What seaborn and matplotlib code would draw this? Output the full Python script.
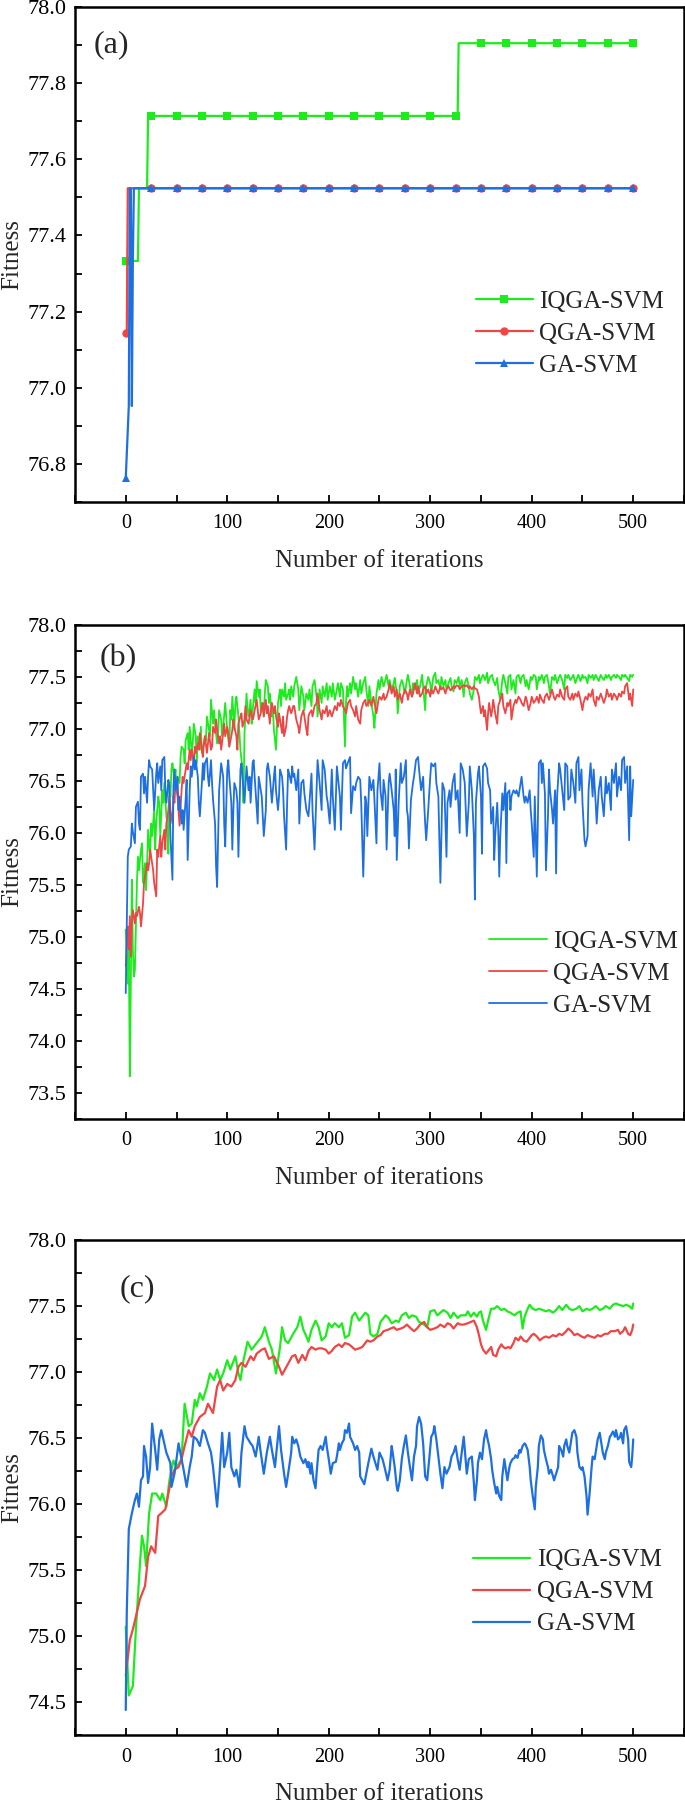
import numpy as np
import pandas as pd
import matplotlib
matplotlib.use('Agg')
import matplotlib.pyplot as plt
from matplotlib.ticker import MultipleLocator, FormatStrFormatter
import seaborn as sns

## Fitness curves of IQGA-SVM / QGA-SVM / GA-SVM, three runs stacked as (a), (b), (c)

labels = ['IQGA-SVM', 'QGA-SVM', 'GA-SVM']
colors = ['#1EEB1E', '#EF4545', '#1E6FE0']

# panel (a): best fitness, held constant from each start iteration
a_iqga = [(0, 77.333), (13, 77.524), (22, 77.714), (328, 77.905)]
a_qga = [(0, 77.143), (2, 77.524)]
a_ga = [(0, 76.762), (1, 76.825), (2, 76.889), (3, 76.952), (4, 77.524),
        (6, 76.952), (7, 77.333), (8, 77.524)]

# panel (b): per-iteration fitness (iteration, fitness)
b_iqga = [
    (0, 75.07), (2, 74.55), (3, 74.88), (4, 73.66), (5, 74.55), (6, 75.55), (7, 74.88), (8, 74.62), (9, 74.68), (11, 75.52),
    (12, 75.77), (13, 75.64), (15, 75.84), (16, 75.90), (17, 75.52), (19, 75.71), (20, 75.45), (21, 75.71), (22, 76.03), (24, 75.77),
    (25, 76.09), (26, 75.97), (28, 76.22), (29, 75.84), (30, 76.09), (32, 76.35), (33, 76.29), (34, 75.97), (36, 76.41), (37, 76.29),
    (38, 76.48), (40, 76.16), (41, 76.09), (42, 75.80), (43, 76.48), (44, 76.35), (45, 76.61), (46, 76.67), (48, 76.51), (49, 76.61),
    (50, 76.41), (51, 76.54), (53, 76.48), (54, 76.73), (55, 76.83), (57, 76.80), (58, 76.67), (59, 76.89), (61, 76.96), (62, 76.80),
    (63, 77.02), (65, 76.77), (66, 76.86), (67, 77.05), (69, 76.93), (70, 76.67), (71, 76.93), (73, 76.80), (74, 77.02), (75, 76.77),
    (77, 76.86), (78, 76.93), (79, 76.89), (80, 77.12), (82, 76.99), (83, 76.93), (84, 77.28), (86, 77.05), (87, 77.18), (88, 77.05),
    (90, 76.86), (91, 76.99), (92, 77.18), (94, 77.09), (95, 76.93), (96, 77.02), (98, 77.25), (99, 77.12), (100, 76.99), (102, 76.83),
    (103, 77.18), (104, 77.09), (105, 77.31), (107, 76.99), (108, 77.25), (109, 77.31), (111, 77.12), (112, 76.96), (113, 76.80), (115, 76.61),
    (116, 76.29), (117, 76.96), (119, 77.34), (120, 77.18), (121, 77.12), (123, 77.28), (124, 77.05), (125, 77.18), (127, 77.38), (128, 77.25),
    (129, 77.46), (131, 77.31), (132, 77.38), (133, 77.18), (134, 77.25), (136, 77.12), (137, 77.34), (138, 77.47), (140, 77.41), (141, 77.25),
    (142, 77.34), (144, 77.12), (145, 77.18), (146, 76.99), (148, 76.80), (149, 77.02), (150, 77.25), (152, 77.38), (153, 77.22), (154, 77.38),
    (156, 77.31), (157, 77.44), (158, 77.28), (160, 77.34), (161, 77.38), (162, 77.28), (163, 77.41), (165, 77.31), (166, 77.41),
    (168, 77.50), (170, 77.38), (171, 77.18), (173, 77.41), (175, 77.31), (176, 77.18), (178, 77.34), (180, 77.28), (181, 77.38), (183, 77.22),
    (184, 77.41), (186, 77.47), (188, 77.31), (189, 77.12), (191, 77.38), (193, 77.25), (194, 77.41), (196, 77.31), (198, 77.44), (199, 77.28),
    (201, 77.41), (203, 77.31), (204, 77.44), (206, 77.28), (208, 77.38), (209, 77.44), (211, 77.31), (212, 77.44), (214, 77.38), (216, 76.83),
    (217, 77.25), (218, 77.41), (219, 77.31), (221, 77.44), (222, 77.34), (224, 77.50), (226, 77.38), (227, 77.44), (229, 77.31), (231, 77.47),
    (232, 77.34), (234, 77.44), (236, 77.50), (237, 77.38), (239, 77.22), (240, 77.41), (242, 77.25), (244, 77.12), (245, 77.01), (247, 77.34),
    (249, 77.47), (250, 77.38), (252, 77.50), (254, 77.41), (255, 77.44), (257, 77.52), (259, 77.41), (260, 77.47), (262, 77.38), (264, 77.44),
    (265, 77.49), (267, 77.34), (268, 77.15), (270, 77.41), (272, 77.47), (273, 77.44), (275, 77.34), (277, 77.47), (278, 77.52), (280, 77.41),
    (282, 77.31), (283, 77.44), (285, 77.38), (287, 77.47), (288, 77.34), (290, 77.41), (292, 77.52), (293, 77.41), (295, 77.18), (296, 77.41),
    (298, 77.50), (300, 77.44), (301, 77.34), (303, 77.50), (305, 77.54), (306, 77.44), (308, 77.47), (310, 77.38), (311, 77.50), (313, 77.41),
    (315, 77.47), (316, 77.38), (318, 77.44), (320, 77.49), (321, 77.41), (323, 77.36), (324, 77.47), (326, 77.44), (328, 77.50), (329, 77.41),
    (331, 77.47), (333, 77.31), (334, 77.44),
    (336, 77.49), (338, 77.41), (339, 77.34), (341, 77.28), (343, 77.38), (344, 77.50), (346, 77.47), (348, 77.52), (349, 77.44), (351, 77.50),
    (352, 77.52), (354, 77.47), (356, 77.54), (357, 77.44), (359, 77.50), (361, 77.52), (362, 77.47), (364, 77.42), (366, 77.49), (367, 77.38),
    (369, 77.28), (371, 77.47), (372, 77.52), (374, 77.44), (376, 77.34), (377, 77.50), (379, 77.52), (380, 77.38), (382, 77.47), (384, 77.34),
    (385, 77.50), (387, 77.52), (389, 77.44), (390, 77.50), (392, 77.52), (394, 77.41), (395, 77.47), (397, 77.38), (399, 77.50), (400, 77.47),
    (402, 77.52), (404, 77.50), (405, 77.38), (407, 77.50), (408, 77.47), (410, 77.52), (412, 77.44), (413, 77.50), (415, 77.52), (417, 77.41),
    (418, 77.34), (420, 77.50), (422, 77.47), (423, 77.52), (425, 77.44), (427, 77.50), (428, 77.52), (430, 77.47), (432, 77.38), (433, 77.52),
    (435, 77.49), (436, 77.52), (438, 77.47), (440, 77.50), (441, 77.52), (443, 77.44), (445, 77.50), (446, 77.52), (448, 77.46), (450, 77.52),
    (451, 77.49), (453, 77.50), (455, 77.44), (456, 77.52), (458, 77.49), (460, 77.52), (461, 77.47), (463, 77.52), (464, 77.50), (466, 77.46),
    (468, 77.52), (469, 77.50), (471, 77.47), (473, 77.52), (474, 77.49), (476, 77.52), (478, 77.47), (479, 77.50), (481, 77.52), (483, 77.49),
    (484, 77.52), (486, 77.50), (488, 77.47), (489, 77.52), (491, 77.50), (492, 77.52), (494, 77.49), (496, 77.46), (497, 77.52), (499, 77.50),
    (500, 77.52),
]
b_qga = [
    (0, 74.72), (2, 75.10), (3, 74.88), (4, 75.20), (5, 74.81), (6, 75.13), (7, 75.26), (9, 75.13), (10, 75.23), (11, 75.20),
    (13, 75.29), (14, 75.23), (15, 75.10), (17, 75.32), (18, 75.52), (19, 75.58), (21, 75.71), (22, 75.64), (23, 75.71), (24, 75.84),
    (26, 75.71), (27, 75.64), (28, 75.52), (30, 75.39), (31, 75.84), (32, 75.77), (34, 75.97), (35, 75.77), (36, 75.90), (38, 76.03),
    (39, 75.84), (40, 76.09), (42, 76.22), (43, 76.35), (44, 76.22), (46, 76.09), (47, 76.35), (48, 76.29), (49, 76.48), (51, 76.35),
    (52, 76.22), (53, 76.07), (55, 76.41), (56, 76.54), (57, 76.48), (59, 76.61), (60, 76.67), (61, 76.61), (63, 76.80), (64, 76.70),
    (65, 76.80), (67, 76.67), (68, 76.83), (69, 76.77), (71, 76.86), (72, 76.80), (73, 76.96), (75, 76.80), (76, 76.73), (77, 76.86),
    (78, 76.93), (80, 76.77), (81, 76.86), (82, 76.96), (84, 76.80), (85, 76.83), (86, 77.02), (88, 76.96), (89, 77.09), (90, 76.99),
    (92, 76.86), (93, 76.93), (94, 76.80), (96, 76.96), (97, 77.05), (98, 76.93), (100, 77.02), (101, 76.96), (102, 76.83), (104, 76.93),
    (105, 76.99), (106, 77.09), (107, 77.02), (109, 76.93), (110, 76.80), (111, 77.05), (113, 77.12), (114, 77.15), (115, 77.02), (117, 77.09),
    (118, 77.22), (119, 77.09), (121, 77.05), (122, 77.12), (123, 77.18), (125, 77.09), (126, 77.12), (127, 77.18), (129, 77.28), (130, 77.18),
    (131, 77.09), (133, 77.15), (134, 77.22), (135, 77.25), (136, 77.12), (138, 77.28), (139, 77.15), (140, 77.22), (142, 77.05), (143, 77.18),
    (144, 77.25), (146, 77.15), (147, 77.22), (148, 77.12), (150, 77.02), (151, 77.15), (152, 77.09), (154, 76.96), (155, 77.12), (156, 76.93),
    (158, 77.02), (159, 77.12), (160, 77.18), (161, 77.22), (163, 77.15), (164, 77.18), (165, 77.22),
    (166, 77.22), (168, 77.09), (170, 77.02), (171, 76.96), (173, 77.12), (175, 77.18), (176, 77.12), (178, 76.99), (179, 76.94), (180, 77.12),
    (181, 77.15), (183, 77.18), (184, 77.12), (186, 77.22), (188, 77.25), (189, 77.34), (191, 77.18), (193, 77.09), (194, 77.18), (196, 77.15),
    (198, 77.22), (199, 77.12), (201, 77.18), (203, 77.12), (204, 77.15), (206, 77.22), (208, 77.18), (209, 77.25), (211, 77.22), (212, 77.28),
    (214, 77.22), (216, 77.18), (217, 77.15), (219, 77.25), (221, 77.28), (222, 77.22), (224, 77.18), (226, 77.12), (227, 77.22), (229, 77.09),
    (231, 77.05), (232, 77.18), (234, 77.25), (236, 77.28), (237, 77.22), (239, 77.25), (240, 77.28), (242, 77.22), (244, 77.31), (245, 77.25),
    (247, 77.15), (249, 77.28), (250, 77.31), (252, 77.28), (254, 77.34), (255, 77.28), (257, 77.31), (259, 77.38), (260, 77.44), (262, 77.34),
    (264, 77.41), (265, 77.31), (267, 77.38), (268, 77.28), (270, 77.34), (272, 77.25), (273, 77.31), (275, 77.38), (277, 77.34), (278, 77.28),
    (280, 77.38), (282, 77.31), (283, 77.34), (285, 77.44), (287, 77.34), (288, 77.41), (290, 77.31), (292, 77.34), (293, 77.38), (295, 77.41),
    (296, 77.34), (298, 77.38), (300, 77.31), (301, 77.38), (303, 77.34), (305, 77.41), (306, 77.38), (308, 77.34), (310, 77.41), (311, 77.38),
    (313, 77.40), (315, 77.34), (316, 77.38), (318, 77.41), (320, 77.37), (321, 77.38), (323, 77.41), (324, 77.39), (326, 77.42), (328, 77.41),
    (329, 77.38), (331, 77.41), (333, 77.42), (334, 77.41),
    (336, 77.42), (338, 77.39), (339, 77.41), (341, 77.38), (343, 77.41), (344, 77.39), (346, 77.38), (348, 77.31), (349, 77.22), (350, 77.15),
    (352, 77.22), (353, 77.12), (354, 77.18), (356, 76.99), (357, 77.15), (358, 77.25), (360, 77.12), (361, 77.18), (362, 77.28), (364, 77.15),
    (366, 77.05), (367, 77.22), (369, 77.28), (371, 77.34), (372, 77.22), (374, 77.15), (376, 77.25), (377, 77.22), (379, 77.28), (380, 77.09),
    (382, 77.22), (384, 77.28), (385, 77.25), (387, 77.31), (389, 77.28), (390, 77.25), (392, 77.22), (394, 77.31), (395, 77.28), (397, 77.18),
    (399, 77.25), (400, 77.31), (402, 77.25), (404, 77.28), (405, 77.31), (407, 77.25), (408, 77.33), (410, 77.28), (412, 77.25), (413, 77.31),
    (415, 77.34), (417, 77.28), (418, 77.31), (420, 77.38), (422, 77.30), (423, 77.28), (425, 77.33), (427, 77.31), (428, 77.38), (430, 77.31),
    (432, 77.28), (433, 77.38), (435, 77.41), (436, 77.31), (438, 77.28), (440, 77.34), (441, 77.28), (443, 77.34), (445, 77.31), (446, 77.36),
    (448, 77.28), (450, 77.18), (451, 77.25), (453, 77.31), (455, 77.28), (456, 77.34), (458, 77.31), (460, 77.38), (461, 77.28), (463, 77.22),
    (464, 77.31), (466, 77.28), (468, 77.34), (469, 77.31), (471, 77.25), (473, 77.31), (474, 77.38), (476, 77.31), (478, 77.34), (479, 77.28),
    (481, 77.34), (483, 77.31), (484, 77.28), (486, 77.34), (488, 77.31), (489, 77.36), (491, 77.34), (492, 77.41), (494, 77.44), (496, 77.28),
    (497, 77.34), (499, 77.22), (500, 77.38),
]
b_ga = [
    (0, 74.46), (2, 75.77), (3, 75.84), (5, 75.87), (6, 76.09), (7, 76.01), (9, 75.90), (10, 76.25), (12, 76.30), (13, 76.09),
    (14, 76.03), (15, 76.54), (17, 76.57), (18, 76.38), (19, 76.54), (21, 76.29), (22, 76.54), (23, 76.70), (24, 76.64), (26, 76.61),
    (27, 76.41), (28, 76.22), (30, 76.57), (31, 76.67), (32, 76.48), (34, 76.64), (35, 76.41), (36, 76.70), (38, 76.73), (39, 76.41),
    (40, 76.29), (42, 76.51), (43, 76.45), (44, 75.97), (46, 75.55), (47, 76.45), (48, 76.61), (49, 76.41), (51, 76.54), (52, 76.22),
    (53, 76.35), (55, 76.09), (56, 76.22), (57, 76.03), (59, 76.32), (60, 76.51), (61, 75.74), (63, 76.41), (64, 76.64), (65, 76.54),
    (67, 76.73), (68, 76.61), (69, 76.70), (71, 76.54), (72, 76.29), (73, 76.16), (75, 76.48), (76, 76.67), (77, 76.51), (78, 76.67),
    (80, 76.72), (81, 76.54), (82, 76.45), (84, 76.70), (85, 76.48), (86, 76.32), (88, 76.09), (89, 75.68), (90, 75.48), (92, 76.41),
    (93, 76.54), (94, 76.67), (96, 76.54), (97, 76.09), (98, 75.87), (100, 76.61), (101, 76.70), (102, 76.54), (104, 76.29), (105, 75.84),
    (106, 76.22), (107, 76.48), (109, 76.41), (110, 76.29), (111, 75.77), (113, 76.61), (114, 76.67), (115, 76.54), (117, 76.29), (118, 76.48),
    (119, 76.64), (121, 76.41), (122, 76.54), (123, 76.29), (125, 76.67), (126, 76.70), (127, 76.54), (129, 76.25), (130, 76.09), (131, 76.54),
    (133, 76.41), (134, 76.35), (135, 76.16), (136, 75.97), (138, 76.22), (139, 76.61), (140, 76.67), (142, 76.54), (143, 76.41), (144, 76.29),
    (146, 76.54), (147, 76.64), (148, 76.41), (150, 76.22), (151, 76.35), (152, 76.61), (154, 76.54), (155, 76.41), (156, 76.16), (158, 75.84),
    (159, 76.29), (160, 76.61), (161, 76.57), (163, 76.48), (164, 76.64), (165, 76.54),
    (166, 76.57), (168, 76.41), (170, 76.61), (171, 76.09), (173, 76.48), (175, 76.51), (176, 76.38), (178, 76.22), (180, 76.16), (181, 76.29),
    (183, 76.57), (184, 76.22), (186, 75.84), (188, 76.41), (189, 76.70), (191, 76.48), (193, 76.22), (194, 76.70), (196, 76.61), (198, 76.35),
    (199, 76.29), (201, 76.09), (203, 76.61), (204, 76.35), (206, 76.03), (208, 76.64), (209, 76.54), (211, 76.35), (212, 76.03), (214, 76.67),
    (216, 76.70), (217, 76.62), (219, 76.68), (221, 76.73), (222, 76.19), (224, 76.45), (226, 76.41), (227, 76.48), (229, 76.54), (231, 76.51),
    (232, 76.29), (234, 75.58), (236, 76.35), (237, 76.29), (238, 75.97), (240, 76.54), (242, 76.41), (244, 76.51), (245, 76.32), (247, 75.90),
    (248, 76.41), (250, 76.67), (251, 76.41), (253, 76.22), (254, 76.51), (256, 76.35), (257, 75.84), (259, 76.48), (260, 76.57), (262, 76.41),
    (264, 76.22), (265, 75.97), (266, 76.61), (267, 75.74), (269, 76.32), (271, 76.67), (272, 76.48), (274, 76.54), (276, 76.70), (277, 76.22),
    (278, 76.16), (279, 75.85), (281, 76.32), (283, 76.48), (284, 76.54), (286, 76.70), (288, 76.73), (289, 76.61), (291, 76.41), (293, 76.54),
    (294, 76.29), (295, 76.09), (296, 75.93), (298, 76.22), (300, 76.54), (301, 76.67), (303, 76.64), (305, 76.67), (306, 76.48), (308, 76.35),
    (310, 75.52), (311, 75.97), (312, 76.48), (314, 76.41), (316, 75.77), (317, 76.29), (319, 76.41), (320, 76.25), (322, 76.48), (324, 76.57),
    (325, 76.32), (327, 76.41), (329, 76.00), (330, 76.67), (332, 76.61), (334, 76.48),
    (336, 75.97), (338, 76.29), (339, 76.64), (341, 76.41), (343, 75.97), (344, 75.36), (345, 76.29), (347, 76.57), (348, 76.64), (350, 76.35),
    (351, 75.80), (352, 76.64), (354, 76.67), (356, 76.62), (357, 76.48), (359, 76.41), (360, 76.09), (362, 76.25), (363, 75.74), (364, 75.97),
    (366, 76.29), (367, 76.03), (368, 75.58), (369, 75.97), (371, 76.38), (372, 76.22), (374, 76.48), (375, 75.71), (376, 76.38), (378, 76.41),
    (379, 76.22), (380, 76.35), (382, 76.41), (384, 76.38), (385, 76.41), (387, 76.35), (389, 76.48), (390, 76.54), (392, 76.35), (393, 76.29),
    (394, 76.35), (396, 76.29), (398, 76.41), (399, 76.22), (400, 76.09), (402, 75.77), (403, 76.35), (405, 75.58), (406, 76.09), (407, 76.67),
    (409, 76.70), (410, 76.48), (411, 76.67), (413, 76.38), (414, 75.64), (416, 76.16), (417, 76.61), (418, 76.41), (420, 76.22), (421, 76.09),
    (423, 76.41), (424, 75.61), (425, 76.35), (427, 76.67), (428, 76.61), (430, 76.41), (432, 76.22), (433, 76.67), (435, 76.64), (436, 76.32),
    (438, 76.35), (439, 76.61), (441, 76.48), (443, 76.29), (444, 76.67), (446, 76.73), (447, 76.41), (449, 76.61), (450, 76.29), (452, 75.93),
    (453, 75.87), (455, 75.97), (456, 76.41), (458, 76.67), (460, 76.35), (461, 76.61), (463, 76.29), (464, 76.09), (466, 76.41), (468, 76.54),
    (469, 76.35), (471, 76.16), (473, 76.54), (474, 76.38), (476, 76.48), (478, 76.22), (479, 76.61), (481, 76.48), (483, 76.67), (484, 76.35),
    (486, 76.54), (488, 76.41), (489, 76.70), (491, 76.73), (492, 76.48), (494, 76.64), (496, 75.93), (497, 76.64), (498, 76.16), (500, 76.51),
]

# panel (c): smoother run (iteration, fitness)
c_iqga = [
    (0, 75.07), (3, 74.55), (7, 74.62), (10, 75.05), (14, 75.55), (16, 75.76), (18, 75.68), (20, 75.53), (23, 75.93), (26, 76.08),
    (30, 76.08), (34, 76.03), (36, 76.08), (40, 75.98), (43, 76.18), (47, 76.33), (50, 76.28), (55, 76.34), (58, 76.76), (62, 76.59),
    (65, 76.61), (68, 76.79), (70, 76.74), (73, 76.84), (76, 76.79), (80, 76.89), (83, 76.99), (87, 76.94), (90, 77.02), (93, 76.94),
    (96, 76.99), (100, 77.09), (103, 77.02), (108, 77.12), (111, 76.99), (113, 76.94), (116, 77.09), (120, 77.23), (124, 77.17), (129, 77.22),
    (134, 77.27), (137, 77.34), (141, 77.23), (144, 77.17), (148, 76.99), (152, 77.19), (154, 77.34), (157, 77.24), (160, 77.22), (165, 77.29),
    (169, 77.34), (172, 77.42), (175, 77.32), (178, 77.27), (180, 77.23), (183, 77.32), (187, 77.39), (190, 77.34), (193, 77.24), (197, 77.27),
    (200, 77.37), (203, 77.34), (206, 77.37), (210, 77.34), (213, 77.37), (216, 77.26), (220, 77.28), (223, 77.42), (226, 77.45), (230, 77.39),
    (233, 77.42), (236, 77.45), (239, 77.43), (241, 77.29), (244, 77.27), (248, 77.29), (251, 77.38), (256, 77.43), (259, 77.41), (262, 77.37),
    (266, 77.39), (269, 77.38), (272, 77.43), (276, 77.45), (279, 77.41), (282, 77.43), (286, 77.42), (289, 77.38), (292, 77.37), (297, 77.34),
    (300, 77.46), (304, 77.47), (307, 77.43), (310, 77.45), (313, 77.47), (317, 77.45), (320, 77.41), (323, 77.45), (327, 77.41), (330, 77.43),
    (335, 77.43), (337, 77.46), (340, 77.42), (343, 77.45), (346, 77.42), (348, 77.45), (350, 77.46), (352, 77.39), (355, 77.32), (357, 77.39),
    (360, 77.48), (363, 77.48), (366, 77.50), (370, 77.47), (373, 77.48), (376, 77.46), (379, 77.45), (383, 77.43), (386, 77.45), (389, 77.46),
    (391, 77.33), (393, 77.42), (396, 77.48), (398, 77.51), (401, 77.48), (404, 77.47), (407, 77.48), (411, 77.47), (414, 77.46), (417, 77.47),
    (421, 77.45), (424, 77.47), (427, 77.50), (430, 77.47), (434, 77.51), (437, 77.48), (440, 77.47), (444, 77.48), (447, 77.50), (450, 77.46),
    (454, 77.48), (457, 77.47), (460, 77.48), (463, 77.50), (467, 77.47), (470, 77.48), (473, 77.50), (477, 77.48), (480, 77.51), (483, 77.52),
    (486, 77.51), (490, 77.50), (493, 77.51), (496, 77.50), (499, 77.48), (500, 77.52),
]
c_qga = [
    (0, 74.70), (4, 74.97), (7, 75.05), (11, 75.18), (14, 75.28), (19, 75.38), (22, 75.60), (25, 75.68), (29, 75.63), (32, 75.91),
    (35, 75.93), (39, 75.96), (42, 76.08), (45, 76.21), (48, 76.26), (52, 76.28), (55, 76.34), (58, 76.44), (62, 76.56), (65, 76.51),
    (68, 76.59), (73, 76.66), (78, 76.69), (81, 76.76), (86, 76.69), (90, 76.89), (93, 76.94), (96, 76.86), (100, 76.91), (104, 76.89),
    (108, 76.94), (111, 77.04), (114, 77.07), (118, 77.04), (123, 77.12), (126, 77.09), (129, 77.14), (134, 77.17), (137, 77.18), (141, 77.10),
    (146, 77.12), (151, 77.04), (154, 76.98), (159, 77.05), (164, 77.12), (167, 77.13), (170, 77.07), (174, 77.13), (177, 77.09), (180, 77.16),
    (183, 77.19), (187, 77.17), (190, 77.18), (193, 77.18), (197, 77.17), (200, 77.14), (203, 77.16), (206, 77.19), (210, 77.21), (213, 77.19),
    (216, 77.22), (220, 77.21), (223, 77.19), (226, 77.17), (230, 77.18), (233, 77.19), (238, 77.24), (241, 77.23), (244, 77.24), (248, 77.27),
    (251, 77.28), (254, 77.31), (258, 77.32), (261, 77.33), (264, 77.34), (267, 77.32), (271, 77.33), (274, 77.34), (277, 77.36), (281, 77.33),
    (284, 77.31), (287, 77.33), (290, 77.36), (294, 77.38), (297, 77.34), (300, 77.32), (304, 77.33), (307, 77.34), (310, 77.36), (314, 77.34),
    (317, 77.37), (320, 77.36), (323, 77.33), (327, 77.37), (330, 77.36), (333, 77.36), (337, 77.37), (340, 77.38), (343, 77.39), (346, 77.34),
    (348, 77.28), (350, 77.21), (352, 77.17), (355, 77.14), (357, 77.16), (360, 77.19), (362, 77.13), (365, 77.12), (367, 77.17), (370, 77.21),
    (372, 77.19), (374, 77.18), (377, 77.19), (379, 77.18), (382, 77.22), (384, 77.26), (387, 77.24), (389, 77.27), (392, 77.24), (395, 77.23),
    (398, 77.26), (400, 77.28), (402, 77.29), (405, 77.27), (408, 77.24), (411, 77.26), (414, 77.27), (417, 77.26), (421, 77.28), (424, 77.27),
    (427, 77.29), (430, 77.28), (434, 77.31), (436, 77.33), (439, 77.31), (442, 77.28), (445, 77.29), (449, 77.27), (452, 77.26), (455, 77.28),
    (458, 77.27), (462, 77.26), (465, 77.28), (468, 77.27), (472, 77.29), (475, 77.29), (478, 77.31), (482, 77.31), (485, 77.32), (487, 77.29),
    (490, 77.31), (492, 77.34), (495, 77.29), (497, 77.28), (499, 77.32), (500, 77.36),
]
c_ga = [
    (0, 74.44), (1, 75.18), (3, 75.81), (6, 75.93), (9, 76.03), (11, 76.08), (13, 75.98), (15, 76.18), (17, 76.21), (18, 76.44),
    (20, 76.36), (22, 76.16), (24, 76.28), (26, 76.61), (29, 76.41), (31, 76.26), (33, 76.49), (35, 76.56), (38, 76.46), (40, 76.39),
    (44, 76.31), (45, 76.13), (48, 76.23), (50, 76.34), (52, 76.46), (55, 76.34), (57, 76.26), (60, 76.13), (63, 76.28), (65, 76.36),
    (67, 76.51), (70, 76.49), (73, 76.44), (76, 76.56), (78, 76.54), (81, 76.46), (84, 76.39), (86, 76.28), (90, 75.98), (92, 76.18),
    (95, 76.54), (97, 76.28), (100, 76.39), (102, 76.54), (104, 76.28), (107, 76.21), (109, 76.26), (112, 76.13), (114, 76.39), (117, 76.59),
    (119, 76.51), (123, 76.46), (125, 76.44), (128, 76.36), (131, 76.51), (133, 76.39), (136, 76.23), (139, 76.39), (142, 76.51), (144, 76.41),
    (147, 76.28), (151, 76.59), (153, 76.41), (156, 76.23), (158, 76.13), (160, 76.23), (163, 76.39), (164, 76.51), (166, 76.46), (168, 76.49),
    (170, 76.44), (172, 76.36), (175, 76.31), (177, 76.34), (179, 76.28), (180, 76.32), (182, 76.23), (183, 76.31), (185, 76.18), (187, 76.12),
    (188, 76.23), (190, 76.41), (192, 76.44), (194, 76.41), (197, 76.51), (198, 76.44), (200, 76.34), (202, 76.23), (204, 76.31), (207, 76.32),
    (208, 76.36), (210, 76.46), (211, 76.41), (213, 76.46), (215, 76.49), (216, 76.56), (218, 76.54), (220, 76.61), (221, 76.51), (224, 76.46),
    (226, 76.41), (228, 76.44), (230, 76.39), (231, 76.21), (233, 76.18), (235, 76.15), (237, 76.23), (239, 76.31), (242, 76.42), (244, 76.36),
    (246, 76.31), (248, 76.26), (250, 76.39), (253, 76.34), (255, 76.28), (258, 76.18), (260, 76.26), (262, 76.44), (263, 76.39), (265, 76.28),
    (267, 76.13), (268, 76.10), (270, 76.18), (272, 76.34), (274, 76.44), (276, 76.52), (278, 76.39), (280, 76.28), (282, 76.18), (284, 76.36),
    (286, 76.44), (287, 76.59), (289, 76.66), (291, 76.61), (293, 76.46), (295, 76.21), (297, 76.18), (299, 76.34), (301, 76.51), (303, 76.54),
    (304, 76.59), (306, 76.49), (308, 76.36), (310, 76.23), (312, 76.12), (314, 76.28), (316, 76.23), (319, 76.28), (321, 76.36), (323, 76.39),
    (325, 76.44), (327, 76.34), (329, 76.26), (331, 76.39), (333, 76.51), (336, 76.23), (338, 76.34), (341, 76.36), (343, 76.16), (344, 76.03),
    (346, 76.18), (347, 76.31), (349, 76.39), (351, 76.34), (353, 76.49), (355, 76.56), (356, 76.51), (358, 76.44), (360, 76.34), (361, 76.26),
    (363, 76.16), (365, 76.08), (366, 76.13), (368, 76.06), (370, 76.03), (371, 76.21), (373, 76.34), (375, 76.23), (376, 76.18), (378, 76.28),
    (379, 76.31), (381, 76.34), (383, 76.35), (384, 76.37), (386, 76.35), (388, 76.41), (389, 76.39), (391, 76.44), (393, 76.46), (394, 76.45),
    (396, 76.41), (398, 76.28), (399, 76.18), (401, 76.06), (403, 75.96), (404, 76.13), (406, 76.28), (407, 76.44), (409, 76.52), (411, 76.49),
    (412, 76.41), (414, 76.34), (416, 76.28), (417, 76.23), (419, 76.26), (421, 76.21), (422, 76.18), (424, 76.23), (426, 76.28), (427, 76.44),
    (429, 76.41), (431, 76.36), (432, 76.44), (434, 76.49), (435, 76.44), (437, 76.39), (439, 76.49), (440, 76.54), (442, 76.56), (444, 76.51),
    (445, 76.39), (447, 76.28), (449, 76.26), (450, 76.28), (452, 76.21), (454, 76.06), (455, 75.92), (457, 76.08), (459, 76.28), (460, 76.36),
    (462, 76.34), (463, 76.39), (465, 76.49), (467, 76.54), (468, 76.49), (470, 76.39), (472, 76.34), (473, 76.39), (475, 76.44), (477, 76.51),
    (478, 76.52), (480, 76.55), (482, 76.51), (483, 76.56), (485, 76.49), (487, 76.51), (488, 76.54), (490, 76.46), (491, 76.56), (493, 76.59),
    (495, 76.49), (496, 76.32), (498, 76.28), (499, 76.36), (500, 76.49),
]


def held_series(changes, n_iter=500):
    # best-so-far style curve: value stays until the next change point
    s = pd.Series(np.nan, index=np.arange(n_iter + 1))
    for it, val in changes:
        s[it] = val
    return s.ffill()


def style_axis(ax, ylim, major, minor, tag, tag_xy, leg_xy):
    ax.set_xlim(-50, 550)
    ax.set_ylim(*ylim)
    ax.xaxis.set_major_locator(MultipleLocator(100))
    ax.xaxis.set_minor_locator(MultipleLocator(50))
    ax.yaxis.set_major_locator(MultipleLocator(major))
    ax.yaxis.set_minor_locator(MultipleLocator(minor))
    ax.yaxis.set_major_formatter(FormatStrFormatter('%.1f'))
    ax.tick_params(which='both', direction='in', top=False, right=False,
                   length=5, width=1.3, colors='black')
    ax.tick_params(axis='x', which='both', pad=9, labelsize=14.5)
    ax.tick_params(axis='y', which='both', pad=6, labelsize=16)
    for sp in ax.spines.values():
        sp.set_linewidth(1.8)
        sp.set_color('black')
    ax.set_xlabel('Number of iterations', fontsize=18, labelpad=12)
    ax.set_ylabel('Fitness', fontsize=18, labelpad=3)
    ax.text(tag_xy[0], tag_xy[1], tag, transform=ax.transAxes, fontsize=23,
            ha='left', va='center')
    ax.legend(loc='upper left', bbox_to_anchor=leg_xy, frameon=False, fontsize=18,
              handlelength=2.3, handletextpad=0.25, labelspacing=0.38,
              borderpad=0, borderaxespad=0)


sns.set_theme(style='ticks')
plt.rcParams['font.family'] = ['Liberation Serif', 'DejaVu Serif']

fig = plt.figure(figsize=(6.85, 18.03), dpi=100)
ax_a = fig.add_axes([0.1095, 0.7216, 0.889, 0.2745])
ax_b = fig.add_axes([0.1095, 0.3794, 0.889, 0.2740])
ax_c = fig.add_axes([0.1095, 0.0377, 0.889, 0.2745])

# (a) with markers every 25 iterations
for changes, lab, col, mk in zip([a_iqga, a_qga, a_ga], labels, colors, ['s', 'o', '^']):
    s = held_series(changes)
    sns.lineplot(x=s.index, y=s.values, ax=ax_a, color=col, linewidth=1.6, label=lab,
                 estimator=None, sort=False, marker=mk, markevery=25, markersize=6,
                 markeredgewidth=0)
style_axis(ax_a, (76.7, 78.0), 0.2, 0.1, '(a)', (0.031, 0.923), (0.658, 0.427))

# (b) raw noisy curves
for pts, lab, col in zip([b_iqga, b_qga, b_ga], labels, colors):
    it, fit = zip(*pts)
    sns.lineplot(x=list(it), y=list(fit), ax=ax_b, color=col, linewidth=1.3, label=lab,
                 estimator=None, sort=False)
style_axis(ax_b, (73.25, 78.0), 0.5, 0.25, '(b)', (0.041, 0.931), (0.680, 0.382))

# (c) smoother curves
for pts, lab, col in zip([c_iqga, c_qga, c_ga], labels, colors):
    it, fit = zip(*pts)
    sns.lineplot(x=list(it), y=list(fit), ax=ax_c, color=col, linewidth=1.6, label=lab,
                 estimator=None, sort=False)
style_axis(ax_c, (74.25, 78.0), 0.5, 0.25, '(c)', (0.074, 0.902), (0.6535, 0.376))

fig.savefig('out.png', dpi=100)
